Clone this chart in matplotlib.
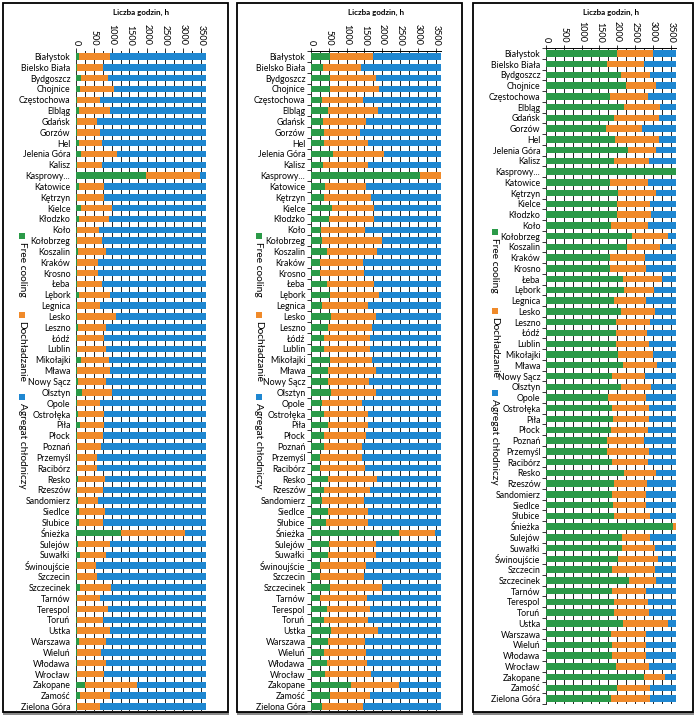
"""
Free cooling / Dochładzanie / Agregat chłodniczy – liczba godzin dla stacji
w Polsce, trzy warianty obok siebie (poziome słupki skumulowane).
"""
import matplotlib
matplotlib.use("Agg")
import matplotlib.pyplot as plt
from matplotlib.patches import Rectangle
from matplotlib.ticker import MultipleLocator, FixedLocator

plt.rcParams["font.family"] = ["Lato", "DejaVu Sans"]

CITIES = [
    "Białystok", "Bielsko Biała", "Bydgoszcz", "Chojnice", "Częstochowa", "Elbląg",
    "Gdańsk", "Gorzów", "Hel", "Jelenia Góra", "Kalisz", "Kasprowy...", "Katowice",
    "Kętrzyn", "Kielce", "Kłodzko", "Koło", "Kołobrzeg", "Koszalin", "Kraków",
    "Krosno", "Łeba", "Lębork", "Legnica", "Lesko", "Leszno", "Łódź", "Lublin",
    "Mikołajki", "Mława", "Nowy Sącz", "Olsztyn", "Opole", "Ostrołęka", "Piła",
    "Płock", "Poznań", "Przemyśl", "Racibórz", "Resko", "Rzeszów", "Sandomierz",
    "Siedlce", "Słubice", "Śnieżka", "Sulejów", "Suwałki", "Świnoujście",
    "Szczecin", "Szczecinek", "Tarnów", "Terespol", "Toruń", "Ustka", "Warszawa",
    "Wieluń", "Włodawa", "Wrocław", "Zakopane", "Zamość", "Zielona Góra",
]

TOTAL_H = 3650  # every bar ends at the same total

# end of the green segment (free cooling), in hours
FREE_1 = [95, 20, 150, 120, 30, 95, 20, 20, 75, 130, 20, 1970, 75, 20, 130, 75, 20,
          20, 55, 20, 20, 20, 75, 20, 20, 55, 25, 20, 140, 35, 55, 170, 35, 55, 115,
          25, 25, 20, 20, 55, 20, 55, 95, 75, 1250, 45, 115, 20, 20, 115, 20, 25, 25,
          25, 95, 20, 20, 35, 255, 115, 20]
# end of the orange segment (dochładzanie), in hours
COOL_1 = [946, 757, 908, 1060, 660, 946, 590, 660, 730, 1150, 730, 3490, 775, 795,
          1010, 920, 635, 730, 850, 615, 615, 730, 946, 680, 1115, 850, 795, 830, 925,
          946, 850, 1010, 680, 795, 795, 757, 700, 590, 590, 820, 757, 615, 820, 757,
          3065, 946, 850, 570, 590, 985, 680, 900, 757, 965, 850, 710, 850, 795, 1700,
          946, 680]

FREE_2 = [528, 333, 520, 537, 315, 472, 343, 352, 370, 620, 324, 3074, 389, 352, 593,
          519, 278, 315, 444, 241, 250, 444, 537, 296, 574, 481, 352, 352, 537, 481,
          481, 574, 315, 370, 481, 352, 370, 259, 259, 481, 352, 296, 491, 426, 2463,
          500, 472, 259, 259, 537, 259, 444, 352, 556, 481, 370, 444, 380, 1111, 537,
          315]
COOL_2 = [1750, 1390, 1833, 1917, 1463, 1890, 1546, 1370, 1593, 2037, 1611, 3650, 1537,
          1685, 1769, 1759, 1519, 1981, 1843, 1454, 1481, 1778, 1907, 1611, 1833, 1704,
          1657, 1657, 1722, 1833, 1630, 1833, 1444, 1593, 1593, 1537, 1444, 1435, 1509,
          1843, 1648, 1500, 1593, 1611, 3481, 1815, 1815, 1537, 1500, 2000, 1574, 1648,
          1593, 1870, 1519, 1537, 1574, 1685, 2463, 1667, 1463]

FREE_3 = [2004, 1703, 2098, 2239, 1797, 2192, 1910, 1674, 1928, 2305, 1910, 3650, 1787,
          2023, 1985, 1985, 1834, 2427, 2286, 1787, 1787, 2173, 2192, 1910, 2117, 1966,
          1957, 1976, 2023, 2164, 1853, 2107, 1740, 1863, 1891, 1834, 1722, 1722, 1863,
          2192, 1910, 1853, 1872, 1910, 3575, 2145, 2145, 2023, 1863, 2324, 1853, 1910,
          1900, 2173, 1816, 1844, 1863, 1976, 2738, 1985, 1816]
COOL_3 = [2991, 2738, 2926, 3095, 2860, 3208, 3161, 2690, 3180, 3095, 2879, 3650, 2850,
          3086, 2926, 2945, 2860, 3434, 3208, 2785, 2803, 3264, 3020, 2813, 3057, 2916,
          2832, 2888, 3001, 3114, 2785, 2945, 2803, 2879, 2897, 2869, 2756, 2879, 2869,
          3086, 2832, 2803, 2803, 2926, 3650, 2916, 3057, 3151, 3057, 3095, 2813, 2869,
          2879, 3415, 2813, 2813, 2813, 2897, 3340, 2907, 2926]

LEGEND = ["Free cooling", "Dochładzanie", "Agregat chłodniczy"]
COLORS = ["#2b9a48", "#f08a2a", "#1f87d1"]

W, H = 697, 716


def fig_rect(x0, y0, x1, y1):
    """pixel box (top-left origin) -> figure fraction [l, b, w, h]"""
    return [x0 / W, 1 - y1 / H, (x1 - x0) / W, (y1 - y0) / H]


def panel(fig, frame, axbox, legx, legy, free, cool, cat_ticks):
    fx0, fy0, fx1, fy1 = frame
    # gray shadow + black frame around each panel
    fig.patches.append(Rectangle((fx0 / W, 1 - (fy1 + 3) / H), (fx1 - fx0 + 1) / W,
                                 3 / H, transform=fig.transFigure,
                                 facecolor="#8a8a8a", edgecolor="none", zorder=0))
    fig.patches.append(Rectangle((fx0 / W, 1 - fy1 / H), (fx1 - fx0) / W,
                                 (fy1 - fy0) / H, transform=fig.transFigure,
                                 facecolor="none", edgecolor="black", lw=1.3, zorder=0))

    ax = fig.add_axes(fig_rect(*axbox))
    ax.set_zorder(2)
    ax.patch.set_alpha(0)
    n = len(CITIES)
    y = list(range(n))
    s_free = [min(v, TOTAL_H) for v in free]
    s_cool = [max(c - f, 0) for f, c in zip(free, cool)]
    s_agr = [max(TOTAL_H - c, 0) for c in cool]
    bh = 0.6
    ax.barh(y, s_free, height=bh, color=COLORS[0], zorder=3)
    ax.barh(y, s_cool, left=s_free, height=bh, color=COLORS[1], zorder=3)
    ax.barh(y, s_agr, left=cool, height=bh, color=COLORS[2], zorder=3)

    ax.set_xlim(0, TOTAL_H)
    ax.set_ylim(n - 0.5, -0.5)
    ax.xaxis.tick_top()
    ax.xaxis.set_minor_locator(MultipleLocator(250))
    ax.set_xticks(range(0, 3501, 500))
    ax.set_xticklabels([str(v) for v in range(0, 3501, 500)], rotation=-90,
                       fontsize=6.5)
    ax.tick_params(axis="x", which="major", length=2.5, width=0.7, pad=1.5,
                   color="#333333")
    ax.tick_params(axis="x", which="minor", length=0)
    ax.grid(axis="x", which="both", color="#222222", lw=0.7, zorder=0)

    ax.set_yticks(y)
    ax.set_yticklabels(CITIES, fontsize=6.3)
    ax.tick_params(axis="y", which="major", length=0, pad=4)
    if cat_ticks:
        ax.yaxis.set_minor_locator(FixedLocator([k + 0.5 for k in range(-1, n)]))
        ax.tick_params(axis="y", which="minor", length=3, width=0.7, color="#333333")
    for side in ("right", "bottom"):
        ax.spines[side].set_visible(False)
    ax.spines["top"].set_visible(cat_ticks)
    ax.spines["top"].set_linewidth(0.7)
    ax.spines["left"].set_linewidth(0.7)
    ax.spines["left"].set_color("#333333")

    x0, y0, x1, y1 = axbox
    fig.text(((x0 + x1) / 2) / W, 1 - 12 / H, "Liczba godzin, h", ha="center",
             va="center", fontsize=5.8, fontweight="bold")

    # vertical legend on the left side
    for (ly, label), c in zip(zip(legy, LEGEND), COLORS):
        fig.patches.append(Rectangle(((legx - 3) / W, 1 - (ly + 3) / H), 6 / W, 6 / H,
                                     transform=fig.transFigure, facecolor=c,
                                     edgecolor="none"))
        fig.text(legx / W, 1 - (ly + 6) / H, label, rotation=-90, ha="center",
                 va="top", fontsize=7.3)
    return ax


fig = plt.figure(figsize=(W / 100, H / 100), dpi=100)

panel(fig, (3, 3, 228, 712), (76, 51, 206, 712), 22, [236, 315, 397],
      FREE_1, COOL_1, cat_ticks=False)
panel(fig, (237, 3, 462, 712), (311, 51, 441, 712), 259, [236, 315, 397],
      FREE_2, COOL_2, cat_ticks=True)
panel(fig, (473, 3, 693, 712), (546, 48, 676, 704), 495, [232, 311, 393],
      FREE_3, COOL_3, cat_ticks=True)

fig.savefig("out.png", dpi=100)
plt.close(fig)
